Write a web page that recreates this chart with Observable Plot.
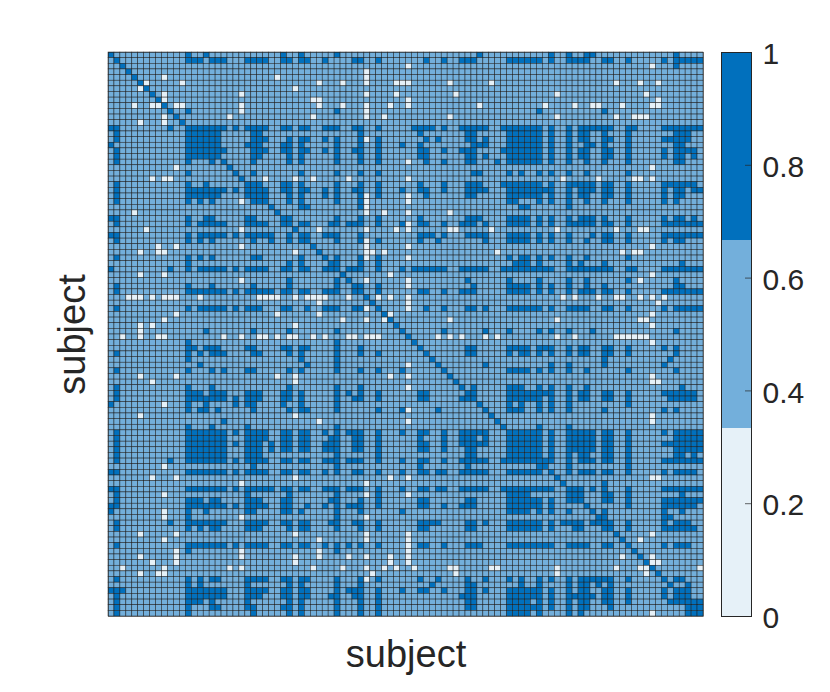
<!DOCTYPE html>
<html>
<head>
<meta charset="utf-8">
<script src="https://cdn.jsdelivr.net/npm/d3@7"></script>
<script src="https://cdn.jsdelivr.net/npm/@observablehq/plot@0.6"></script>
<style>
html,body{margin:0;padding:0;background:#fff}
#chart{display:flex;width:830px;height:692px}
svg{display:block}
</style>
</head>
<body>
<div id="chart"></div>
<script>
const subjectCount = 100;
const colorCuts = [1/3, 2/3];
const colorRange = ["#e6f1f8", "#73afdb", "#0170bd"];
const barTicks = [0, 0.2, 0.4, 0.6, 0.8, 1];
const axisLabel = "subject";
const font = "Liberation Sans, Arial, Helvetica, sans-serif";

// Upper triangle of the symmetric matrix: subject -> partners with value 1
const onePairs = [
[0,"13 16 29 32 38 62 74 77 80 81 95"],
[1,"13-15 17-19 23-26 29 30 32 33 36 41 42 45 53 56 59-61 67-72 74 77-80 83 84 87 93 95-99"],
[2,"95"],
[10,"13 38 72 83"],
[13,"14-19 21 23-26 29 30 32 33 36-38 41 42 45 51-54 56 59-63 66-72 74 77 79-84 87 88 93-99"],
[14,"15-18 24 25 42 52 60 61 67-72 74 77 79 80 83 87 95-97"],
[15,"16-18 24-26 30 32 33 36 38 42 45 53 55 60 61 63 67-72 74 77 79 80 83 84 87 93-97"],
[16,"17 18 23-25 29 30 32 38 42 45 49 52 61-63 67-72 74 77 80 81 83 87 95 96"],
[17,"18 19 24-26 29 30 32 33 36 38 41 42 45 52 53 56 59-61 66-72 74 77 79 80 83 84 87 93 95-98"],
[18,"24 25 30 32 38 42 45 52 53 60 61 63 67-72 74 77 79 80 83 84 87 93 95 96 98"],
[19,"24 30 32 38 42 45 53 56 60 61 65 67-72 74 77 80 83 87 95 96"],
[21,"24 32 38 42 45 61 62 67 69 72 74 77 80 87"],
[23,"24 25 29 30 32 38 42 45 52 56 60-62 66-72 74 77-81 83 84 87 93-98"],
[24,"25 26 29 30 32 33 36 38 41 42 45 49 52 53 56 60-63 67-74 77 79-81 83 84 87 93 95 96 98 99"],
[25,"26 30 32 36 38 42 45 53 60 61 67-72 74 77 79 80 83 84 87 93 95 96"],
[26,"30 32 38 42 67 68 72 74 77 80 83 87 93 95"],
[27,"32 33 42 69 70 77"],
[29,"30 38 42 45 52 60 61 62 67-70 72 74 77 79-81 83 87 93 95 96 98"],
[30,"32 33 37 38 40-42 45 49 52 53 56 59-61 63 67-70 72 74 77-81 83 84 87 93-99"],
[32,"33 36-38 42 52-54 56 60-63 67-70 72 74 77 81 83 84 87 93-99"],
[33,"38 42 45 52 55 63 67-70 72 74 77 80 83 84 87 93 95 96"],
[36,"38 42 45 67 69 70 72 74 77 80 87"],
[37,"38 42 45 68-70 72 77 79 83 96"],
[38,"40-42 45 49 51-56 59-63 66-74 77-84 87 88 93-99"],
[40,"60 67 72 77 80 87 95"],
[41,"42 45 61 67-70 72 74 77 80 83 95 96"],
[42,"45 52 53 56 59-61 67-70 72 74 77 79-81 83 84 87 93-99"],
[45,"53 56 60 61 63 67-72 74 77-80 83 84 87 93 95-99"],
[49,"56 63 67 72 74 77 81 95"],
[52,"60 61 67-70 72-74 77 79 80 83 84 87 93 95"],
[53,"60 61 67 69 70 72 74 77 79 80 83 84 87 95"],
[54,"83 94"],
[55,"63 74 77 83 93"],
[56,"67-70 72 74 77 80 87 95"],
[59,"61 67-69 72 74 77 80 96"],
[60,"61 67-74 77 79 80 83 84 87 93-98"],
[61,"67-72 74 77 79 80 83 84 87 94-98"],
[62,"67 69 72 74 77 87"],
[63,"67-69 72 74 77 83 93 95"],
[66,"72 77"],
[67,"68-72 74 77-81 83 84 87 93 95-99"],
[68,"69-72 74 77-81 83 84 87 95-99"],
[69,"70-72 74 77-81 83 84 87 93-99"],
[70,"71 72 74 77-81 83 84 87 95-99"],
[71,"72 74 77 79 80 83 84 87 95 96 98"],
[72,"73 74 77 79-81 83 84 87 93-99"],
[73,"77 87"],
[74,"77 79-81 83 84 87 93 95-98"],
[76,"83"],
[77,"78 79 81 83 87 93-99"],
[78,"79 83 84 87 96"],
[79,"83 84 87 93-99"],
[80,"87 93-98"],
[81,"83 93 96"],
[82,"83 93 94"],
[83,"84 87 93 95-97"],
[84,"87 93-98"],
[87,"93 95-97"],
[93,"95 96"],
[94,"97"],
[95,"96 97"],
[96,"97"],
[97,"98 99"],
[98,"99"]
];

// Upper triangle: subject -> partners with value 0
const zeroPairs = [
[2,"50 91"],
[3,"43"],
[4,"9 28 43"],
[5,"6 12 35 39 43 48-50 57 64 85 89 92"],
[6,"31"],
[7,"9 22 43 48 58 75 90"],
[8,"9 34 35 50 92"],
[9,"11 12 22 35 39 43 47 50 62 73 78 81 82 86 91 92"],
[10,"22 43"],
[11,"20 34 43 46 57 75 85 88-90"],
[15,"43"],
[19,"50"],
[20,"91"],
[22,"26 31 34 40 50 76 82 88 89 91"],
[25,"43 50"],
[26,"43 50"],
[27,"43"],
[28,"43 46 50 57"],
[30,"50"],
[31,"35 43 48 50 57 58 64 75 85 89 90"],
[33,"43"],
[34,"43 50 91"],
[35,"43 44 46 65 86 88 89"],
[36,"43 50"],
[39,"47 91"],
[40,"43 50 89"],
[41,"50"],
[43,"45 47 50 76 78 82 85 86 89 91 93"],
[44,"50 92"],
[45,"50"],
[46,"47 91"],
[47,"57 75 89 90"],
[48,"91"],
[50,"55 57 59 63 65 75 78 85-90"],
[51,"91"],
[57,"91"],
[58,"91 92"],
[64,"91"],
[65,"91"],
[75,"91 92"],
[85,"91"],
[86,"89"],
[89,"91"],
[90,"91 92"],
[91,"99"]
];

const expand = s => s.split(" ").flatMap(p => {
  const [a, b] = p.split("-").map(Number);
  return b === undefined ? [a] : d3.range(a, b + 1);
});
const matrix = d3.range(subjectCount).map(i =>
  d3.range(subjectCount).map(j => i === j ? 1 : 0.5));
const fillPairs = (pairs, v) => pairs.forEach(([i, s]) => expand(s).forEach(j => {
  matrix[i][j] = v; matrix[j][i] = v;
}));
fillPairs(onePairs, 1);
fillPairs(zeroPairs, 0);
const cells = matrix.flatMap((row, i) => row.map((value, j) => ({row: i, col: j, value})));

const colorScale = {type: "threshold", domain: colorCuts, range: colorRange};

const heat = Plot.plot({
  width: 721, height: 692,
  marginLeft: 108, marginRight: 18, marginTop: 52, marginBottom: 76,
  style: {fontFamily: font, background: "#fff", color: "#262626"},
  x: {domain: d3.range(subjectCount), padding: 0, round: false, axis: null},
  y: {domain: d3.range(subjectCount), padding: 0, round: false, axis: null},
  color: colorScale,
  marks: [
    Plot.cell(cells, {x: "col", y: "row", fill: "value", stroke: "#1c1c1c", strokeWidth: 0.5}),
    Plot.frame({stroke: "#262626", strokeWidth: 0.6}),
    Plot.text([axisLabel], {frameAnchor: "bottom", dy: 50, fontSize: 38, fill: "#262626"}),
    Plot.text([axisLabel], {frameAnchor: "left", textAnchor: "middle", rotate: -90, dx: -36, fontSize: 38, fill: "#262626"})
  ]
});

const bands = [
  {lo: 0, hi: colorCuts[0], value: 0},
  {lo: colorCuts[0], hi: colorCuts[1], value: 0.5},
  {lo: colorCuts[1], hi: 1, value: 1}
];
const bar = Plot.plot({
  width: 109, height: 692,
  marginLeft: 0, marginRight: 79, marginTop: 52, marginBottom: 76,
  style: {fontFamily: font, background: "#fff", color: "#262626"},
  x: {domain: [0, 1], axis: null},
  y: {domain: [0, 1], axis: null},
  color: colorScale,
  marks: [
    Plot.rectY(bands, {x1: 0, x2: 1, y1: "lo", y2: "hi", fill: "value"}),
    Plot.ruleY(barTicks, {x1: 0.8, x2: 1, stroke: "#262626", strokeWidth: 0.7}),
    Plot.frame({stroke: "#262626", strokeWidth: 1}),
    Plot.text(barTicks, {x: 1, y: d => d, text: d => String(d), dx: 11, dy: 2, textAnchor: "start", fontSize: 30, fill: "#262626"})
  ]
});

document.getElementById("chart").append(heat, bar);
</script>
</body>
</html>
